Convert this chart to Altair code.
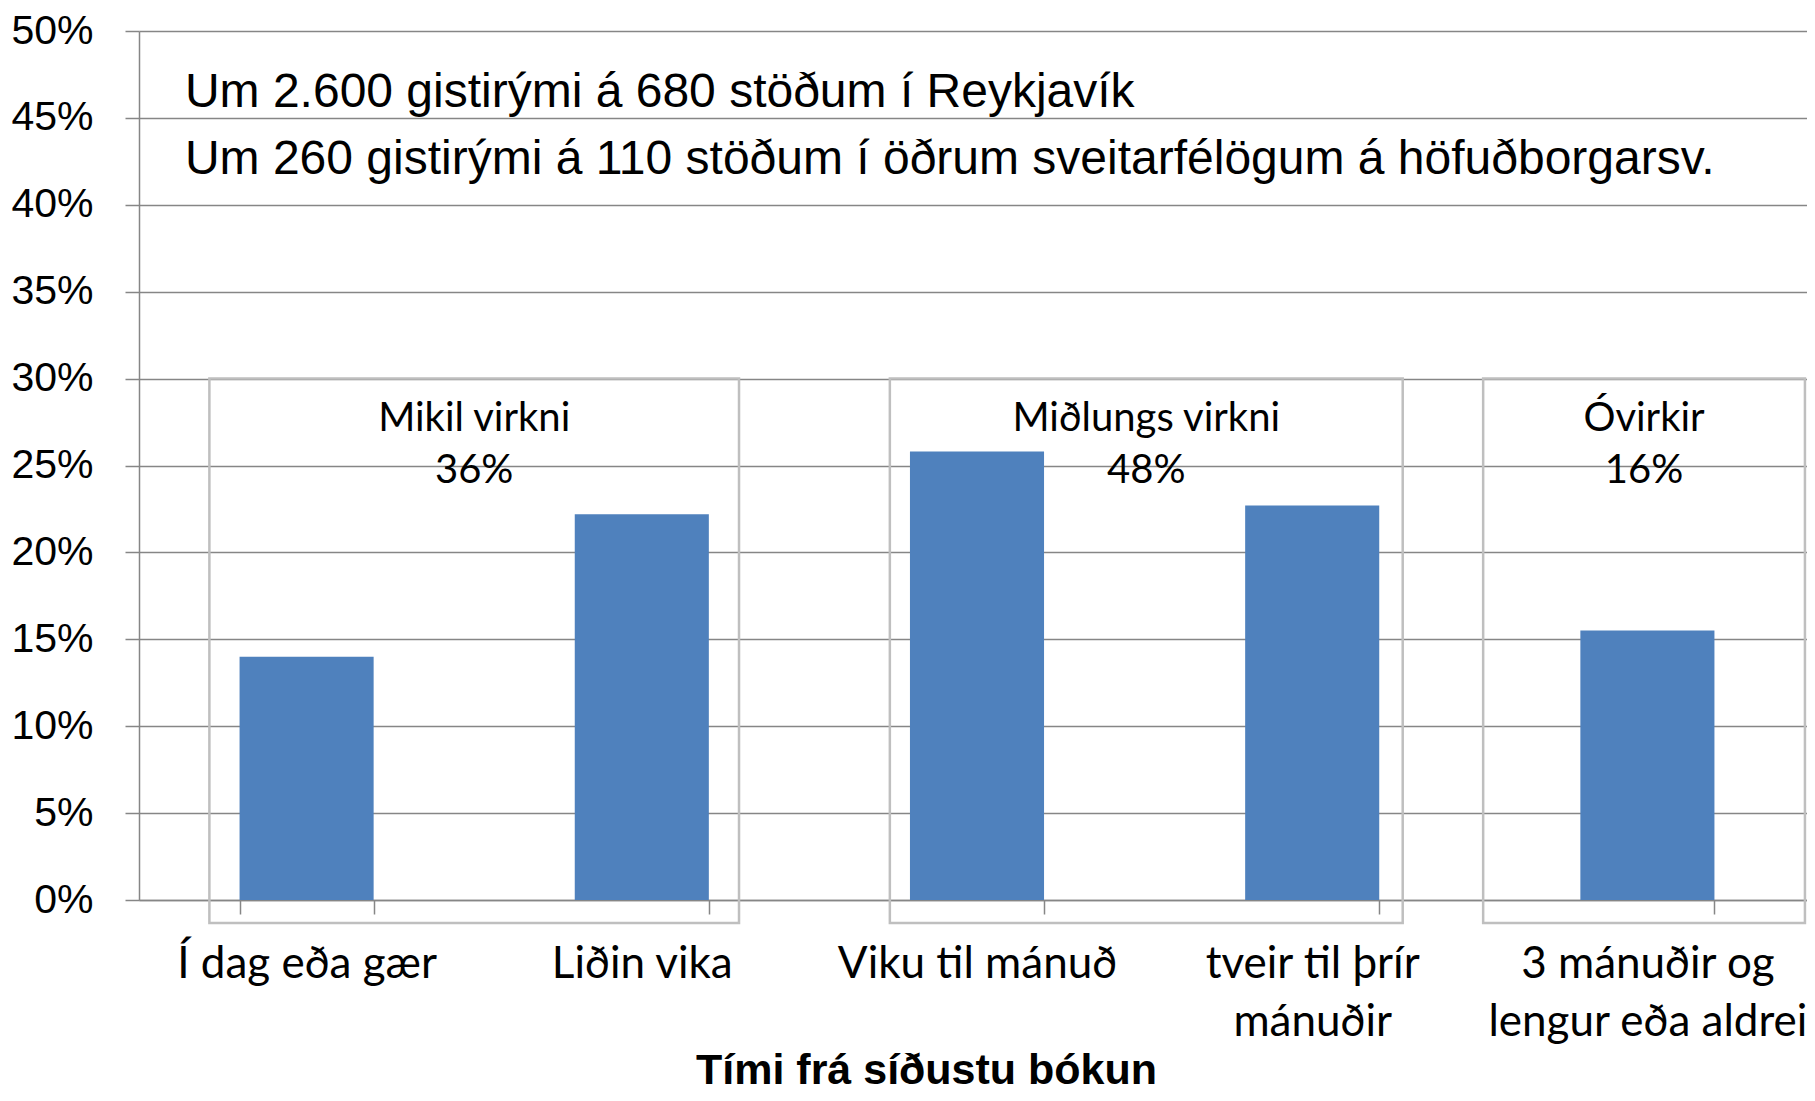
import json
import altair as alt
import pandas as pd

# ---- data ----
categories = ["Í dag eða gær", "Liðin vika", "Viku til mánuð",
              "tveir til þrír mánuðir", "3 mánuðir og lengur eða aldrei"]
label_lines = [["Í dag eða gær"], ["Liðin vika"], ["Viku til mánuð"],
               ["tveir til þrír", "mánuðir"], ["3 mánuðir og", "lengur eða aldrei"]]
values = [14.0, 22.2, 25.8, 22.7, 15.5]

groups = ["Mikil virkni", "Miðlungs virkni", "Óvirkir"]
group_shares = ["36%", "48%", "16%"]
group_start = [0.21, 2.24, 4.01]
group_end = [1.79, 3.77, 4.97]
group_top = [30.0, 30.0, 30.0]
group_bottom = [-1.33, -1.33, -1.33]
group_name_y = [27.7, 27.7, 27.7]
group_share_y = [24.7, 24.7, 24.7]

note_lines = ["Um 2.600 gistirými á 680 stöðum í Reykjavík",
              "Um 260 gistirými á 110 stöðum í öðrum sveitarfélögum á höfuðborgarsv."]
note_x = [0.137, 0.137]
note_y = [46.45, 42.6]

y_ticks = [0, 5, 10, 15, 20, 25, 30, 35, 40, 45, 50]
x_title = "Tími frá síðustu bókun"

# ---- layout constants ----
W = 1668          # visible plot width (keeps the page from overflowing)
XR = 1676         # x range: the last band runs to the right edge, as in the reference
H = 869
GRAY = "#868686"
BOX = "#BFBFBF"
BLUE = "#4F81BD"

bars_df = pd.DataFrame({"cat": categories, "val": values})
box_df = pd.DataFrame({"g": groups, "x0": group_start, "x1": group_end,
                       "y0": group_bottom, "y1": group_top,
                       "xc": [(a + b) / 2 for a, b in zip(group_start, group_end)],
                       "share": group_shares, "ny": group_name_y, "sy": group_share_y})
note_df = pd.DataFrame({"t": note_lines, "x": note_x, "y": note_y})

# label expression for multi-line category labels
expr = "datum.label"
for cat, lines in zip(categories, label_lines):
    if len(lines) > 1:
        expr = f"datum.label == {json.dumps(cat)} ? {json.dumps(lines)} : ({expr})"

yscale = alt.Scale(domain=[0, 50], nice=False)
qx = alt.Scale(domain=[0, 5], range=[0, XR], nice=False, zero=False)

bars = alt.Chart(bars_df).mark_bar(color=BLUE).encode(
    x=alt.X("cat:N", sort=categories,
            scale=alt.Scale(range=[0, XR], paddingInner=0.6, paddingOuter=0.3),
            axis=alt.Axis(title=x_title, labelAngle=0, labelExpr=expr,
                          labelFont="Lato", labelFontSize=44, labelColor="black",
                          labelLineHeight=58, labelPadding=28, labelLimit=500,
                          labelOverlap=False,
                          tickBand="extent", tickSize=14, tickColor=GRAY, tickWidth=1.5,
                          domainColor=GRAY, domainWidth=1.5,
                          titleFont="Liberation Sans", titleFontWeight="bold",
                          titleFontSize=43, titleColor="black",
                          titleX=787, titleY=183, titleBaseline="alphabetic",
                          titleAlign="center", titleAnchor="start")),
    y=alt.Y("val:Q", scale=yscale,
            axis=alt.Axis(values=y_ticks, labelExpr="datum.value + '%'", title=None,
                          labelFont="Liberation Sans", labelFontSize=41,
                          labelColor="black", labelPadding=32,
                          tickSize=14, tickColor=GRAY, tickWidth=1.5,
                          domainColor=GRAY, domainWidth=1.5,
                          grid=True, gridColor=GRAY, gridWidth=1.5)),
)

boxes = alt.Chart(box_df).mark_rect(filled=False, stroke=BOX, strokeWidth=2.5).encode(
    x=alt.X("x0:Q", scale=qx, axis=None),
    x2="x1:Q",
    y=alt.Y("y0:Q", scale=yscale),
    y2="y1:Q",
)

gnames = alt.Chart(box_df).mark_text(font="Lato", fontSize=40, color="black",
                                     align="center", baseline="middle").encode(
    x=alt.X("xc:Q", scale=qx, axis=None),
    y=alt.Y("ny:Q", scale=yscale),
    text="g:N",
)

gshares = alt.Chart(box_df).mark_text(font="Lato", fontSize=40, color="black",
                                      align="center", baseline="middle").encode(
    x=alt.X("xc:Q", scale=qx, axis=None),
    y=alt.Y("sy:Q", scale=yscale),
    text="share:N",
)

notes = alt.Chart(note_df).mark_text(font="Liberation Sans", fontSize=48, color="black",
                                     align="left", baseline="middle").encode(
    x=alt.X("x:Q", scale=qx, axis=None),
    y=alt.Y("y:Q", scale=yscale),
    text="t:N",
)

chart = alt.layer(bars, boxes, gnames, gshares, notes).resolve_scale(
    x="independent"
).properties(
    width=W, height=H,
    autosize=alt.AutoSizeParams(type="none"),
    padding={"left": 131, "top": 23, "right": 0, "bottom": 193},
    background="white",
).configure_view(stroke=None)

chart.save("out.html", embed_options={"renderer": "svg", "actions": False})
